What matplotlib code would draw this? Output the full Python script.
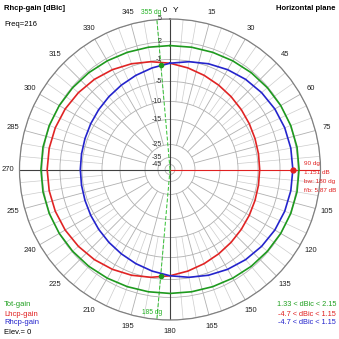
import numpy as np
import matplotlib
matplotlib.use("Agg")
from matplotlib import pyplot as plt

plt.rcParams['font.family'] = ['Liberation Sans', 'DejaVu Sans']

# azimuth (deg) and gains (dBic)
az = np.arange(0, 360, 10)
rhcp = [-1.68, -1.10, -0.58, -0.12, 0.28, 0.60, 0.85, 1.02, 1.12, 1.15,
        1.12, 1.02, 0.85, 0.60, 0.28, -0.12, -0.58, -1.10, -1.68, -2.25,
        -2.80, -3.30, -3.72, -4.08, -4.36, -4.56, -4.67, -4.70, -4.67, -4.56,
        -4.36, -4.08, -3.72, -3.30, -2.80, -2.25]
lhcp = [-1.68, -2.25, -2.80, -3.30, -3.72, -4.08, -4.36, -4.56, -4.67, -4.70,
        -4.67, -4.56, -4.36, -4.08, -3.72, -3.30, -2.80, -2.25, -1.68, -1.10,
        -0.58, -0.12, 0.28, 0.60, 0.85, 1.02, 1.12, 1.15, 1.12, 1.02,
        0.85, 0.60, 0.28, -0.12, -0.58, -1.10]
total = [1.33, 1.37, 1.46, 1.59, 1.74, 1.87, 1.99, 2.08, 2.14, 2.15,
         2.14, 2.08, 1.99, 1.87, 1.74, 1.59, 1.46, 1.37, 1.33, 1.37,
         1.46, 1.59, 1.74, 1.87, 1.99, 2.08, 2.14, 2.15, 2.14, 2.08,
         1.99, 1.87, 1.74, 1.59, 1.46, 1.37]

ring_db = [5, 2, -1, -5, -10, -15, -25, -35, -45]
az_labels = list(range(0, 360, 15))

marker_az, marker_db = 90, 1.151
beam_az = [355, 185]
beam_db = [-1.9, -1.55]

# radial scale: dB -> fraction of plot radius
scale_db = [-55, -45, -35, -25, -15, -10, -5, -1, 2, 5]
scale_r = [0.0, 0.033, 0.080, 0.166, 0.332, 0.452, 0.585, 0.731, 0.850, 1.0]


def fwd(v):
    return np.interp(v, scale_db, scale_r)


def inv(v):
    return np.interp(v, scale_r, scale_db)


W = 339
fig = plt.figure(figsize=(3.39, 3.39), dpi=100)
cx, cy, R = 170, 169.5, 150.5
ax = fig.add_axes([(cx - R) / W, (W - cy - R) / W, 2 * R / W, 2 * R / W],
                  projection='polar')
ax.set_theta_zero_location('N')
ax.set_theta_direction(-1)
ax.set_rscale('function', functions=(fwd, inv))
ax.set_rlim(-55, 5)
ax.spines['polar'].set_color('#808080')
ax.spines['polar'].set_linewidth(0.9)

ax.set_rgrids(ring_db, labels=[''] * len(ring_db))
ax.yaxis.grid(True, color='#b0b0b0', lw=0.6)
ax.set_thetagrids(az_labels,
                  labels=['' if a in (0, 90) else str(a) for a in az_labels],
                  fontsize=5.5)
ax.tick_params(axis='x', pad=-2, colors='#202020')
ax.xaxis.grid(False)

# spokes
for a in range(0, 360, 5):
    t = np.deg2rad(a)
    if a % 15 == 0:
        ax.plot([t, t], [-25, 5], color='#b0b0b0', lw=0.6, zorder=1)
    else:
        ax.plot([t, t], [-10, 5], color='#cccccc', lw=0.5, zorder=1)

# main axes
for a in (0, 180, 270):
    t = np.deg2rad(a)
    ax.plot([t, t], [-55, 5], color='#404040', lw=0.8, zorder=2)
ax.plot([np.deg2rad(90)] * 2, [-55, 5], color='#e02020', lw=0.8, zorder=2)

for b in beam_az:
    ax.plot([np.deg2rad(b)] * 2, [-55, 5], color='#30c030', lw=0.7,
            ls=(0, (4, 2)), zorder=3)

th = np.deg2rad(np.append(az, 360))
ax.plot(th, np.append(total, total[0]), color='#1e9a1e', lw=1.2, zorder=4)
ax.plot(th, np.append(lhcp, lhcp[0]), color='#e02424', lw=1.2, zorder=4)
ax.plot(th, np.append(rhcp, rhcp[0]), color='#2424cc', lw=1.2, zorder=4)

ax.plot(np.deg2rad(beam_az), beam_db, 'o', color='#1e9a1e', ms=3, zorder=5)
ax.plot(np.deg2rad(marker_az), marker_db, 'o', color='#e02020', ms=3.5, zorder=5)

for d in ring_db:
    ax.annotate(str(d), xy=(0, d), xytext=(-6, 0), textcoords='offset points',
                ha='right', va='center', fontsize=5, color='#303030')


def ftext(x, y, s, **kw):
    fig.text(x / W, 1 - y / W, s, **kw)


ftext(4, 8, 'Rhcp-gain [dBic]', fontsize=5.5, weight='bold', va='center')
ftext(4, 25, 'Freq=216', fontsize=5.5, va='center')
ftext(336, 8, 'Horizontal plane', fontsize=5.5, weight='bold', va='center', ha='right')
ftext(165, 10, '0', fontsize=5.5, va='center', ha='center')
ftext(176, 10, 'Y', fontsize=6, va='center', ha='center')
ftext(161, 13, '355 dg', fontsize=4.8, va='center', ha='right', color='#20b020')
ftext(152, 312, '185 dg', fontsize=4.8, va='center', ha='center', color='#20b020')

for i, s in enumerate(['90 dg', '%.3f dB' % marker_db, 'bw: 180 dg', 'f/b: 5.87 dB']):
    ftext(304, 163 + 9 * i, s, fontsize=4.6, va='center', color='#e02020')

ftext(4, 305, 'Tot-gain', fontsize=5.5, va='center', color='#20a020')
ftext(4, 314, 'Lhcp-gain', fontsize=5.5, va='center', color='#e02020')
ftext(4, 323, 'Rhcp-gain', fontsize=5.5, va='center', color='#2424cc')
ftext(4, 333, 'Elev.= 0', fontsize=5.5, va='center', color='black')

ftext(336, 305, '%.2f < dBic < %.2f' % (min(total), max(total)), fontsize=5.3,
      va='center', ha='right', color='#20a020')
ftext(336, 314, '%.1f < dBic < %.2f' % (min(lhcp), max(lhcp)), fontsize=5.3,
      va='center', ha='right', color='#e02020')
ftext(336, 323, '%.1f < dBic < %.2f' % (min(rhcp), max(rhcp)), fontsize=5.3,
      va='center', ha='right', color='#2424cc')

fig.savefig('out.png', dpi=100, facecolor='white')
